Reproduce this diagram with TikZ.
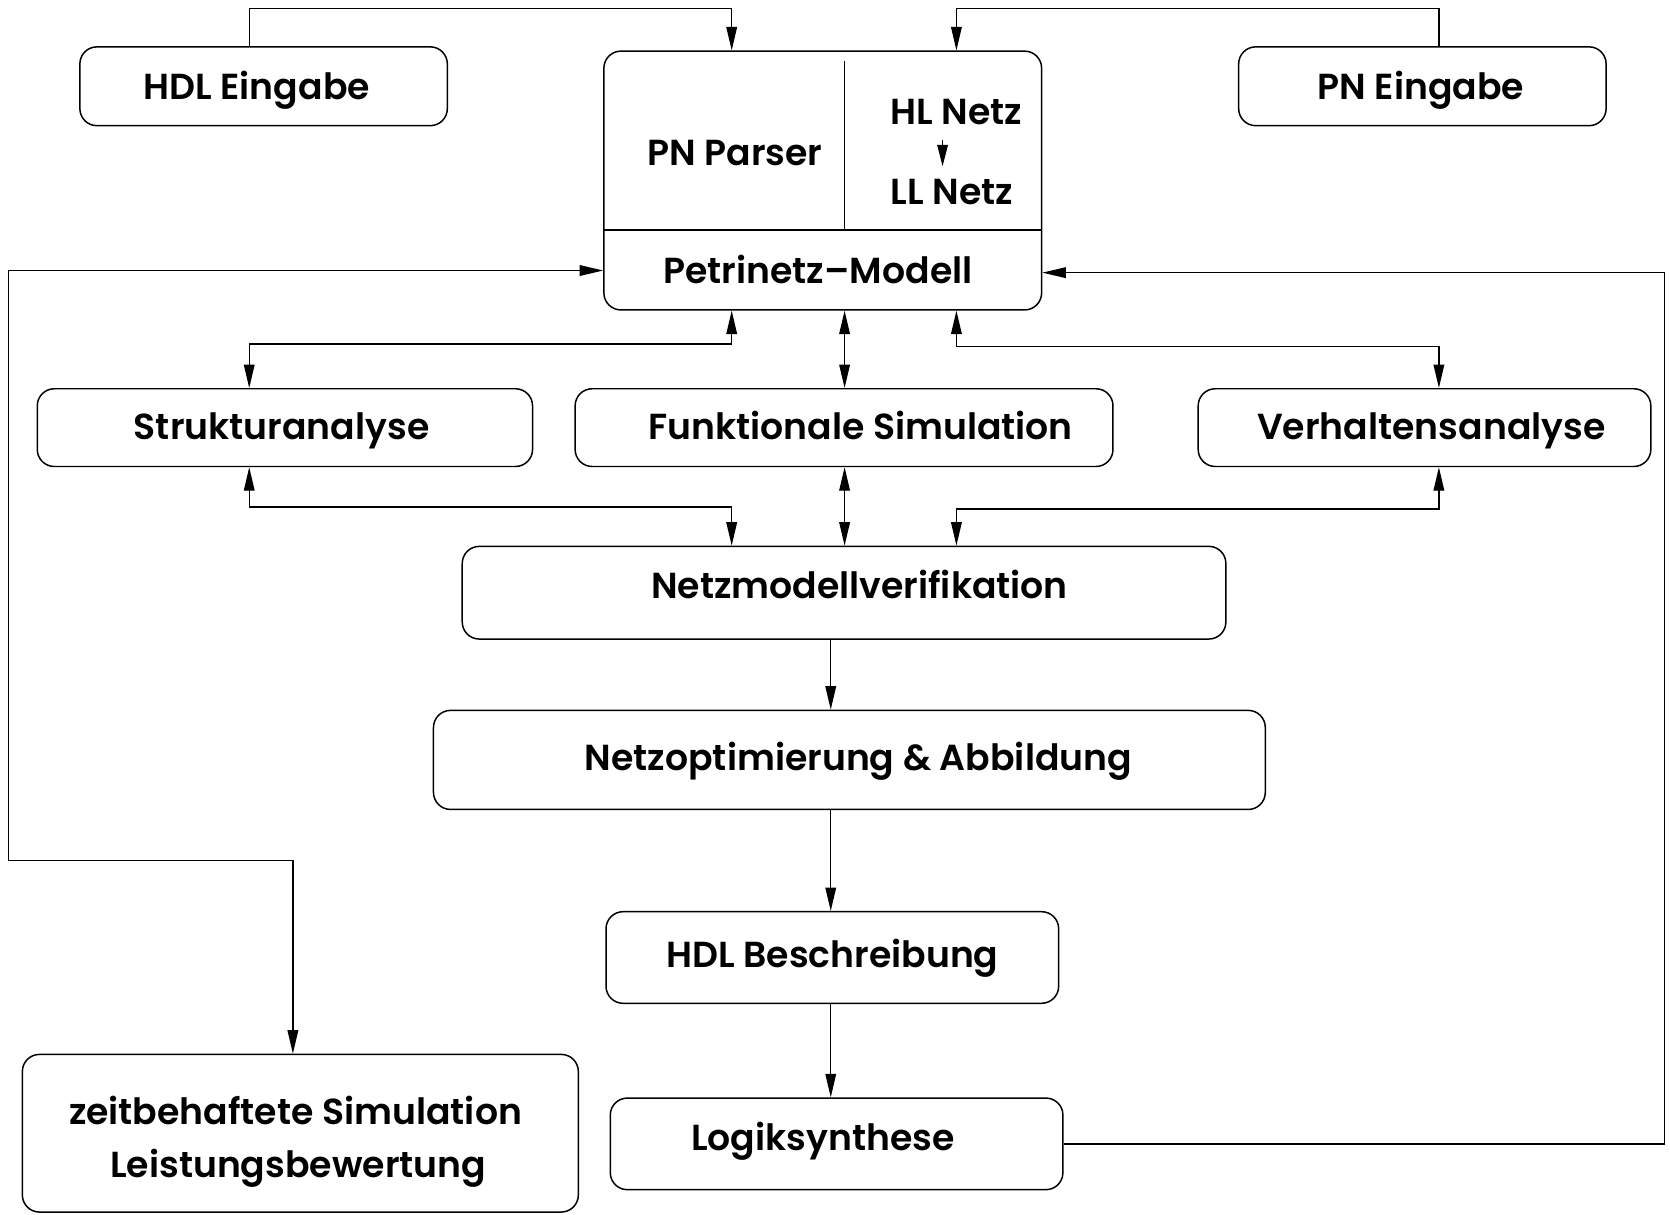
\documentclass[tikz,border=0pt]{standalone}
\usepackage{fontspec}
\setmainfont{Poppins SemiBold}
\usetikzlibrary{arrows.meta}
\begin{document}
\begin{tikzpicture}[x=0.5pt,y=-0.5pt,
  box/.style={draw, line width=0.7pt, rounded corners=8pt, inner sep=0pt},
  lbl/.style={inner sep=0pt, text height=0.7em, text depth=0pt, yshift=-2.5pt,
    font=\fontsize{17}{22}\selectfont},
  conn/.style={line width=0.6pt, -{Triangle[length=11pt,width=5pt]}},
  biconn/.style={line width=0.6pt, {Triangle[length=11pt,width=5pt]}-{Triangle[length=11pt,width=5pt]}},
  tinyarrow/.style={line width=0.6pt, -{Triangle[length=10pt,width=5pt]}}]
\useasboundingbox (0,0) rectangle (1568,1140);

% column and row guides for the connectors
\coordinate (xA) at (234,0);
\coordinate (xB) at (687,0);
\coordinate (xC) at (793,0);
\coordinate (xD) at (898,0);
\coordinate (xE) at (1351,0);
\coordinate (xM) at (780,0);
\coordinate (xL) at (8,0);
\coordinate (xR) at (1563,0);
\coordinate (xZ) at (275,0);
\coordinate (yTop) at (0,8);
\coordinate (yLeft) at (0,254);
\coordinate (yRight) at (0,256);
\coordinate (yUpL) at (0,323);
\coordinate (yUpR) at (0,325);
\coordinate (yLoL) at (0,476);
\coordinate (yLoR) at (0,478);
\coordinate (yLoop) at (0,808);

% boxes
\node[box, minimum width=172.5pt, minimum height=37pt] (hdlin) at (247.5,81) {};
\node[box, minimum width=172.5pt, minimum height=37pt] (pnin) at (1335.5,81) {};
\node[box, minimum width=205.5pt, minimum height=121.5pt] (petri) at (772.5,169.5) {};
\node[box, minimum width=232.5pt, minimum height=36.5pt] (struk) at (267.5,401.5) {};
\node[box, minimum width=252.5pt, minimum height=36.5pt] (funk) at (792.5,401.5) {};
\node[box, minimum width=212.5pt, minimum height=36.5pt] (verh) at (1337.5,401.5) {};
\node[box, minimum width=358.5pt, minimum height=43.5pt] (netzv) at (792.5,556.5) {};
\node[box, minimum width=390.5pt, minimum height=46.5pt] (netzo) at (797.5,713.5) {};
\node[box, minimum width=212.5pt, minimum height=43pt] (hdlb) at (781.5,899) {};
\node[box, minimum width=212.5pt, minimum height=43pt] (logik) at (785.5,1074) {};
\node[box, minimum width=261pt, minimum height=74pt] (zeit) at (282,1064) {};

% inner divisions of the Petri net block
\draw[line width=0.6pt] (petri.west |- 0,216) -- (petri.east |- 0,216);
\draw[line width=0.6pt] (793,57) -- (793,216);

% labels
\node[lbl] (hdlinT) at (241,81) {HDL Eingabe};
\node[lbl] (pninT) at (1334,81) {PN Eingabe};
\node[lbl] (parser) at (690,143) {PN Parser};
\node[lbl] (hlnetz) at (898,105) {HL Netz};
\node[lbl] (llnetz) at (894,180) {LL Netz};
\node[lbl] (modell) at (768,254) {Petrinetz\textendash Modell};
\node[lbl] (strukT) at (264.5,401) {Strukturanalyse};
\node[lbl] (funkT) at (808,401) {Funktionale Simulation};
\node[lbl] (verhT) at (1344,401) {Verhaltensanalyse};
\node[lbl] (netzvT) at (807,550) {Netzmodellverifikation};
\node[lbl] (netzoT) at (806,711) {Netzoptimierung \& Abbildung};
\node[lbl] (hdlbT) at (781.5,896) {HDL Beschreibung};
\node[lbl] (logikT) at (772.5,1068) {Logiksynthese};
\node[lbl] (zeitA) at (277.5,1044) {zeitbehaftete Simulation};
\node[lbl] (zeitB) at (280,1094) {Leistungsbewertung};

% HL net to LL net
\coordinate (hlbot) at (885,131);
\coordinate (lltop) at (885,156);
\draw[tinyarrow] (hlbot) -- (lltop);

% inputs into the model
\draw[conn] (hdlin.north -| xA) |- (yTop -| xB) -- (petri.north -| xB);
\draw[conn] (pnin.north -| xE) |- (yTop -| xD) -- (petri.north -| xD);

% model <-> analyses
\draw[biconn] (petri.south -| xB) |- (yUpL -| xA) -- (struk.north -| xA);
\draw[biconn] (petri.south -| xC) -- (funk.north -| xC);
\draw[biconn] (petri.south -| xD) |- (yUpR -| xE) -- (verh.north -| xE);

% analyses <-> verification
\draw[biconn] (struk.south -| xA) |- (yLoL -| xB) -- (netzv.north -| xB);
\draw[biconn] (funk.south -| xC) -- (netzv.north -| xC);
\draw[biconn] (verh.south -| xE) |- (yLoR -| xD) -- (netzv.north -| xD);

% main chain
\draw[conn] (netzv.south -| xM) -- (netzo.north -| xM);
\draw[conn] (netzo.south -| xM) -- (hdlb.north -| xM);
\draw[conn] (hdlb.south -| xM) -- (logik.north -| xM);

% feedback loops
\draw[conn] (logik.east) -| (yRight -| xR) -- (petri.east |- yRight);
\draw[biconn] (zeit.north -| xZ) |- (yLoop -| xL) |- (petri.west |- yLeft);
\end{tikzpicture}
\end{document}
